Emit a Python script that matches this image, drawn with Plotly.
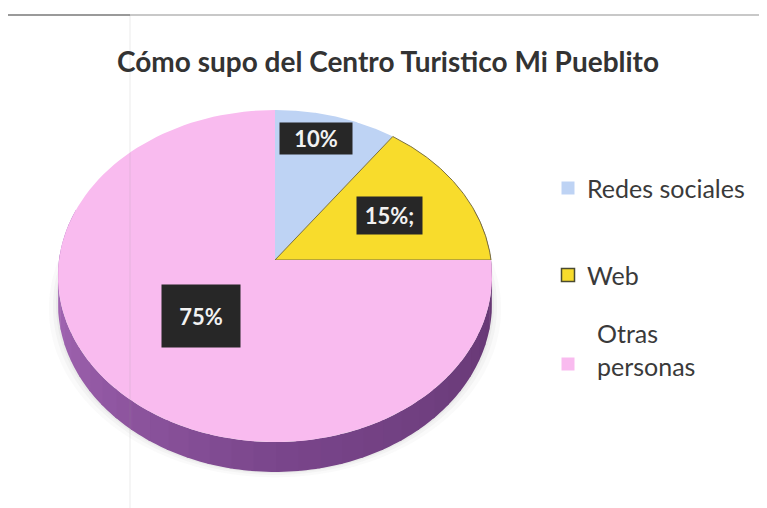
import numpy as np
import plotly.graph_objects as go

# datos del grafico
categorias = ['Redes sociales', 'Web', 'Otras personas']
valores = [10, 15, 75]
etiquetas = ['10%', '15%;', '75%']
colores = ['#bed3f4', '#f8dc2c', '#f9bbef']
titulo = 'Cómo supo del Centro Turistico Mi Pueblito'

# geometria de la torta 3D (en pixeles de pantalla)
CX, CY = 275, 260
RX, RY = 216, 164.5
K = 0.0964
PROF = 27
FUENTE = 'Lato'
OFF = 8  # margen del body de la pagina


def proyectar(theta, r=1.0, baja=0.0):
    """theta en grados, medido en sentido horario desde las 12."""
    t = np.radians(theta)
    X = r * np.sin(t)
    Z = -r * np.cos(t)
    s = 1 / (1 - K * Z)
    return CX + RX * X * s, CY + RY * Z * s + baja * s


fig = go.Figure()

# sombra suave alrededor
for extra, alfa in [(9, 0.03), (5, 0.04), (2, 0.05)]:
    th = np.linspace(0, 360, 200)
    x, y = proyectar(th, baja=PROF)
    x = CX + (x - CX) * (1 + extra / RX)
    y = y + extra * 0.6
    fig.add_trace(go.Scatter(x=x, y=y, fill='toself', mode='none',
                             fillcolor=f'rgba(80,80,80,{alfa})',
                             hoverinfo='skip', showlegend=False))

# costado (lado frontal), en franjas para sombrear
franjas = 40
bordes = np.linspace(72, 288, franjas + 1)
c_der = np.array([96, 52, 108])
c_cen = np.array([122, 70, 140])
c_izq = np.array([176, 112, 192])
for i in range(franjas):
    a0, a1 = bordes[i], bordes[i + 1]
    m = (a0 + a1) / 2
    if m < 180:
        f = (m - 72) / 108
        c = c_der + (c_cen - c_der) * f
    else:
        f = (m - 180) / 108
        c = c_cen + (c_izq - c_cen) * f
    th = np.linspace(a0 - 0.3, a1 + 0.3, 6)
    xs, ys = proyectar(th)
    xb, yb = proyectar(th[::-1], baja=PROF)
    fig.add_trace(go.Scatter(x=np.concatenate([xs, xb]), y=np.concatenate([ys, yb]),
                             fill='toself', mode='none',
                             fillcolor='rgb(%d,%d,%d)' % tuple(c.astype(int)),
                             hoverinfo='skip', showlegend=False))

# cara superior: porciones
total = sum(valores)
inicio = 0.0
angulos = []
for cat, val, col in zip(categorias, valores, colores):
    fin = inicio + 360 * val / total
    angulos.append((inicio, fin))
    th = np.linspace(inicio, fin, 120)
    xr, yr = proyectar(th)
    x = np.concatenate([[CX], xr, [CX]])
    y = np.concatenate([[CY], yr, [CY]])
    borde = dict(color='#7a7040', width=1) if cat == 'Web' else dict(width=0)
    fig.add_trace(go.Scatter(x=x, y=y, fill='toself', fillcolor=col,
                             mode='lines', line=borde, name=cat,
                             hoverinfo='name', showlegend=False))
    inicio = fin

# etiquetas de datos
pos_etiqueta = [(0.4, 0.82), (0.5, 0.61), (0.5, 0.47)]
caja = [(62, 21), (55, 27), (68, 52)]
for (a0, a1), txt, (fa, fr), (w, h) in zip(angulos, etiquetas, pos_etiqueta, caja):
    lx, ly = proyectar(a0 + (a1 - a0) * fa, r=fr)
    fig.add_annotation(x=float(lx), y=float(ly), text=f'<b>{txt}</b>', showarrow=False,
                       font=dict(family=FUENTE, size=22, color='#f2f2f2'),
                       bgcolor='#272727', borderpad=5, width=w, height=h)

# leyenda
ley_x = 568
ley_y = [188, 275, 364]
ley_txt = ['Redes sociales', 'Web', 'Otras<br>personas']
ley_txt_x = [585, 585, 595]
ley_borde = ['rgba(0,0,0,0)', '#4a4a30', 'rgba(0,0,0,0)']
for yy, txt, tx, col, bc in zip(ley_y, ley_txt, ley_txt_x, colores, ley_borde):
    fig.add_trace(go.Scatter(x=[ley_x], y=[yy], mode='markers',
                             marker=dict(symbol='square', size=13, color=col,
                                         line=dict(color=bc, width=1.5)),
                             hoverinfo='skip', showlegend=False))
    dy = -15 if '<br>' in txt else 0
    fig.add_annotation(x=tx, y=yy + dy, text=txt, showarrow=False, xanchor='left',
                       align='left', font=dict(family=FUENTE, size=25, color='#3a3a3a'))

# rastros del escaneo
fig.add_shape(type='line', x0=0, x1=780, y0=15, y1=15, line=dict(color='#c8c8c8', width=2))
fig.add_shape(type='line', x0=0, x1=130, y0=15, y1=15, line=dict(color='#9a9a9a', width=2))
fig.add_shape(type='line', x0=130, x1=130, y0=15, y1=520, line=dict(color='rgba(150,150,150,0.18)', width=1))

fig.update_layout(
    width=767, height=508,
    margin=dict(l=0, r=0, t=0, b=0),
    paper_bgcolor='white', plot_bgcolor='white',
    title=dict(text=f'<b>{titulo}</b>', x=(388 - OFF) / 767, xanchor='center',
               y=1 - (62 - OFF) / 508, yanchor='middle',
               font=dict(family=FUENTE, size=28, color='#333333')),
    xaxis=dict(range=[OFF, 767 + OFF], visible=False, fixedrange=True),
    yaxis=dict(range=[508 + OFF, OFF], visible=False, fixedrange=True),
    showlegend=False,
)

fig.write_html('out.html')
